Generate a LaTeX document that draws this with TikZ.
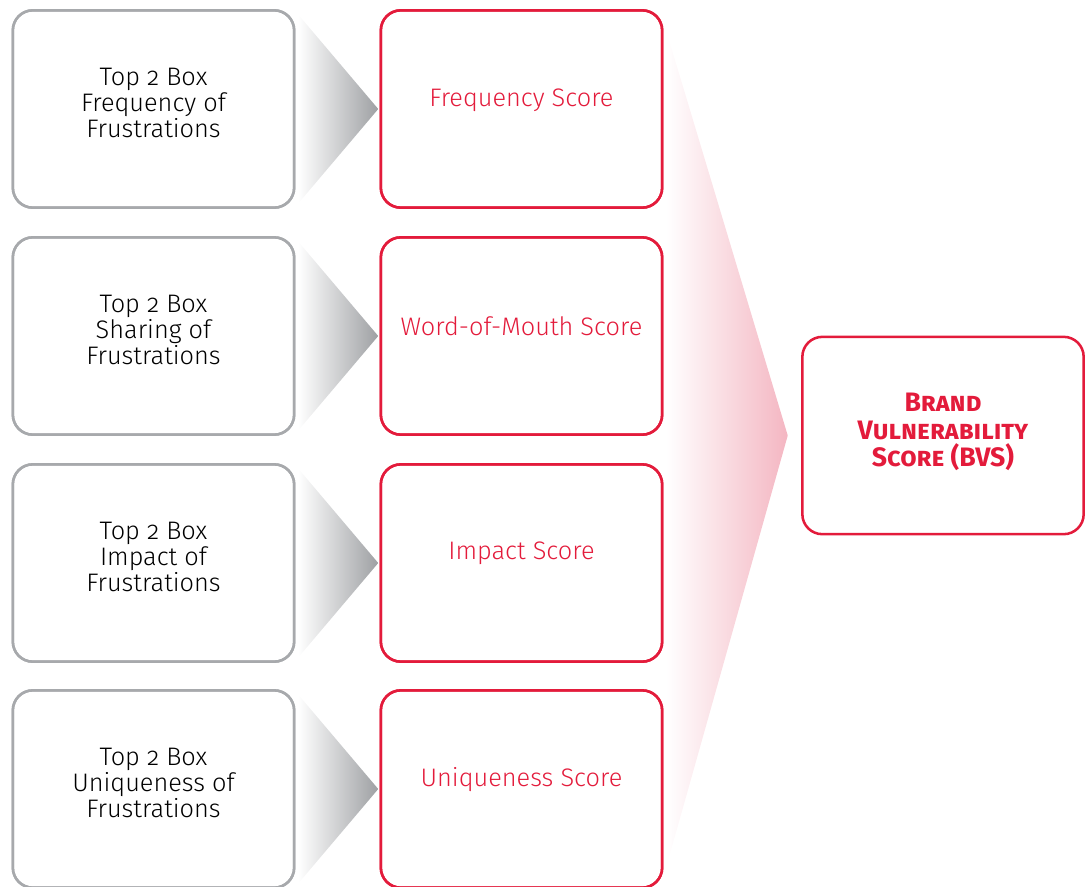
\documentclass[tikz,border=0pt]{standalone}
\usepackage{fontspec}
\setmainfont{Fira Sans}[Numbers=OldStyle, UprightFont=* Light, BoldFont=* Bold]
\definecolor{bvsred}{HTML}{E31B3B}
\definecolor{boxgray}{HTML}{A7A9AC}
\definecolor{arrowgray}{HTML}{9EA0A3}
\definecolor{arrowpink}{HTML}{F4B6C2}
\begin{document}
\begin{tikzpicture}[x=0.75pt, y=-0.75pt,
    card/.style={draw=boxgray, line width=1.9pt, rounded corners=15pt, minimum width=211pt, minimum height=148pt, inner sep=0pt},
    score/.style={card, draw=bvsred},
    txt/.style={align=center, font=\fontsize{19}{19.5}\selectfont, inner sep=0pt},
    redtxt/.style={txt, text=bvsred}]
    \useasboundingbox (0,0) rectangle (1088,886);
    % fading arrows first, boxes on top
    \node [card] (t1) at (153.5,109) {};
    \node [card] (t2) at (153.5,336) {};
    \node [card] (t3) at (153.5,563) {};
    \node [card] (t4) at (153.5,789) {};
    \node [score] (s1) at (521.5,109) {};
    \node [score] (s2) at (521.5,336) {};
    \node [score] (s3) at (521.5,563) {};
    \node [score] (s4) at (521.5,789) {};
    \node [score] (bvs) at (943,435.5) {};
    \foreach \i in {1,...,4}{
        \shade [left color=white, right color=arrowgray]
            ([xshift=2, yshift=-4]t\i.north east) -- ([xshift=-1]s\i.west) -- ([xshift=2, yshift=4]t\i.south east) -- cycle;
    }
    \shade [left color=white, right color=arrowpink]
        ([xshift=2, yshift=-16]s1.north east) -- ([xshift=-10]bvs.west) -- ([xshift=2, yshift=16]s4.south east) -- cycle;
    % redraw the outlines over the shading
    \foreach \i in {1,...,4}{
        \node [card] at (t\i) {};
        \node [score] at (s\i) {};
    }
    % texts
    \node [txt] (l1) at (153.5,103) {Top 2 Box\\Frequency of\\Frustrations};
    \node [txt] (l2) at (153.5,330) {Top 2 Box\\Sharing of\\Frustrations};
    \node [txt] (l3) at (153.5,557) {Top 2 Box\\Impact of\\Frustrations};
    \node [txt] (l4) at (153.5,783) {Top 2 Box\\Uniqueness of\\Frustrations};
    \node [redtxt] (m1) at (521.5,100) {Frequency Score};
    \node [redtxt] (m2) at (521.5,326) {Word-of-Mouth Score};
    \node [redtxt] (m3) at (521.5,553) {Impact Score};
    \node [redtxt] (m4) at (521.5,780) {Uniqueness Score};
    \node [redtxt, font=\fontsize{20}{20.6}\selectfont\bfseries\scshape] (b) at (943,432) {Brand\\Vulnerability\\Score (BVS)};
\end{tikzpicture}
\end{document}
